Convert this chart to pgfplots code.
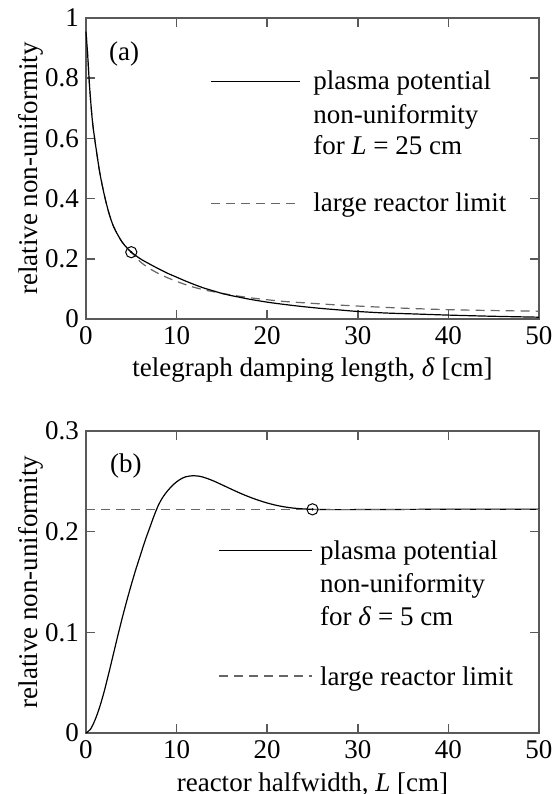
\documentclass[border=0pt]{standalone}
\usepackage{fontspec}
\setmainfont{Liberation Serif}
\usepackage{pgfplots}
\pgfplotsset{compat=1.18}

\pgfplotsset{
  panel/.style={
    scale only axis,
    width=226.5pt,
    xmin=0, xmax=50,
    xtick={0,10,...,50},
    tick align=inside,
    major tick length=4.5pt,
    axis line style={black!65, line width=0.8pt},
    every tick/.style={black!65, line width=0.8pt},
    tick label style={font=\fontsize{13.5}{16}\selectfont},
    label style={font=\fontsize{13.5}{16}\selectfont},
    ylabel shift=-6pt,
    /pgf/number format/assume math mode=true,
    clip=false,
  },
}
\tikzset{
  curve/.style={black, line width=0.6pt},
  limit/.style={black!60, line width=0.6pt, dash pattern=on 4.5pt off 3pt},
  point/.style={only marks, mark=o, mark size=2.8pt,
    mark options={black, line width=0.5pt, fill=white}},
  dot/.style={only marks, mark=*, mark size=0.35pt, mark options={black}},
}

\begin{document}
\begin{tikzpicture}[font=\fontsize{13.5}{16}\selectfont]
% (a) damping length scan, L = 25 cm
\begin{axis}[panel,
  at={(0,0)}, anchor=south west,
  height=150.5pt,
  ymin=0, ymax=1,
  ytick={0,0.2,...,1},
  xlabel={telegraph damping length, \textit{δ} [cm]},
  ylabel={relative non-uniformity},
  ]
  \addplot[limit, smooth] coordinates {
    (0,0.955) (0.2,0.87) (0.4,0.77) (0.7,0.66) (1,0.59) (1.5,0.49)
    (2,0.415) (2.5,0.355) (3,0.31) (3.5,0.28) (4,0.255) (4.5,0.237)
    (5,0.222) (6,0.19) (7,0.168) (8,0.151) (9,0.137) (10,0.125)
    (11.5,0.109) (13,0.097) (14,0.091) (16,0.080) (18,0.071) (20,0.064)
    (22,0.058) (25,0.052) (27,0.048) (30,0.043) (35,0.036) (40,0.031)
    (45,0.028) (50,0.026)};
  \addplot[curve, smooth] coordinates {
    (0,0.955) (0.2,0.87) (0.4,0.77) (0.7,0.66) (1,0.59) (1.5,0.49)
    (2,0.415) (2.5,0.355) (3,0.31) (3.5,0.28) (4,0.255) (4.5,0.237)
    (5,0.222) (6,0.200) (7,0.183) (8,0.167) (9,0.152) (10,0.139)
    (11,0.126) (12,0.114) (13,0.103) (14,0.094) (15,0.085) (16,0.078)
    (17,0.072) (18,0.066) (20,0.056) (22,0.048) (24,0.041) (26,0.035)
    (28,0.030) (30,0.025) (33,0.020) (36,0.017) (40,0.013) (45,0.009)
    (50,0.006)};
  \addplot[point] coordinates {(5,0.222)};
  \addplot[dot] coordinates {(5,0.222)};
  \node at (axis cs:4.2,0.88) {(a)};
  \draw[curve] (axis cs:13.8,0.788) -- (axis cs:23.6,0.788);
  \node[anchor=base west, inner sep=0pt] at (axis cs:25.05,0.761) {plasma potential};
  \node[anchor=base west, inner sep=0pt] at (axis cs:25.05,0.650) {non-uniformity};
  \node[anchor=base west, inner sep=0pt] at (axis cs:25.05,0.545) {for \textit{L} = 25 cm};
  \draw[limit] (axis cs:13.8,0.385) -- (axis cs:23.6,0.385);
  \node[anchor=base west, inner sep=0pt] at (axis cs:25.05,0.356) {large reactor limit};
\end{axis}

% (b) reactor halfwidth scan, delta = 5 cm
\begin{axis}[panel,
  at={(0,-207pt)}, anchor=south west,
  height=151pt,
  ymin=0, ymax=0.3,
  ytick={0,0.1,0.2,0.3},
  xlabel={reactor halfwidth, \textit{L} [cm]},
  ylabel={relative non-uniformity},
  ]
  \addplot[curve, smooth] coordinates {
    (0,0) (0.5,0.0038) (1,0.013) (1.5,0.0255) (2,0.041) (2.5,0.0588)
    (3,0.0775) (3.5,0.0963) (4,0.1143) (4.5,0.1313) (5,0.1473)
    (5.5,0.1625) (6,0.1765) (6.5,0.1905) (7,0.2030) (7.5,0.2155)
    (8,0.2265) (8.5,0.2345) (9,0.2405) (9.5,0.2455) (10,0.2495)
    (10.5,0.2525) (11,0.2545) (11.7,0.2555) (12.4,0.2552) (13,0.2540)
    (14,0.2507) (15,0.2466) (16,0.2424) (17,0.2383) (18,0.2346)
    (19,0.2313) (20,0.2285) (21,0.2262) (22,0.2245) (23,0.2233)
    (24,0.2226) (25,0.2222) (26,0.2220) (28,0.2219) (32,0.2220)
    (38,0.2222) (50,0.2222)};
  \addplot[limit] coordinates {(0,0.2222) (50,0.2222)};
  \addplot[point] coordinates {(25,0.2222)};
  \addplot[dot] coordinates {(25,0.2222)};
  \node at (axis cs:4.4,0.265) {(b)};
  \draw[curve] (axis cs:14.7,0.1815) -- (axis cs:24.9,0.1815);
  \node[anchor=base west, inner sep=0pt] at (axis cs:25.8,0.1722) {plasma potential};
  \node[anchor=base west, inner sep=0pt] at (axis cs:25.8,0.1391) {non-uniformity};
  \node[anchor=base west, inner sep=0pt] at (axis cs:25.8,0.1070) {for \textit{δ} = 5 cm};
  \draw[limit] (axis cs:14.7,0.0566) -- (axis cs:24.9,0.0566);
  \node[anchor=base west, inner sep=0pt] at (axis cs:25.8,0.0474) {large reactor limit};
\end{axis}

\pgfresetboundingbox
\useasboundingbox (-43pt,-237.5pt) rectangle (235pt,159.5pt);
\end{tikzpicture}
\end{document}
